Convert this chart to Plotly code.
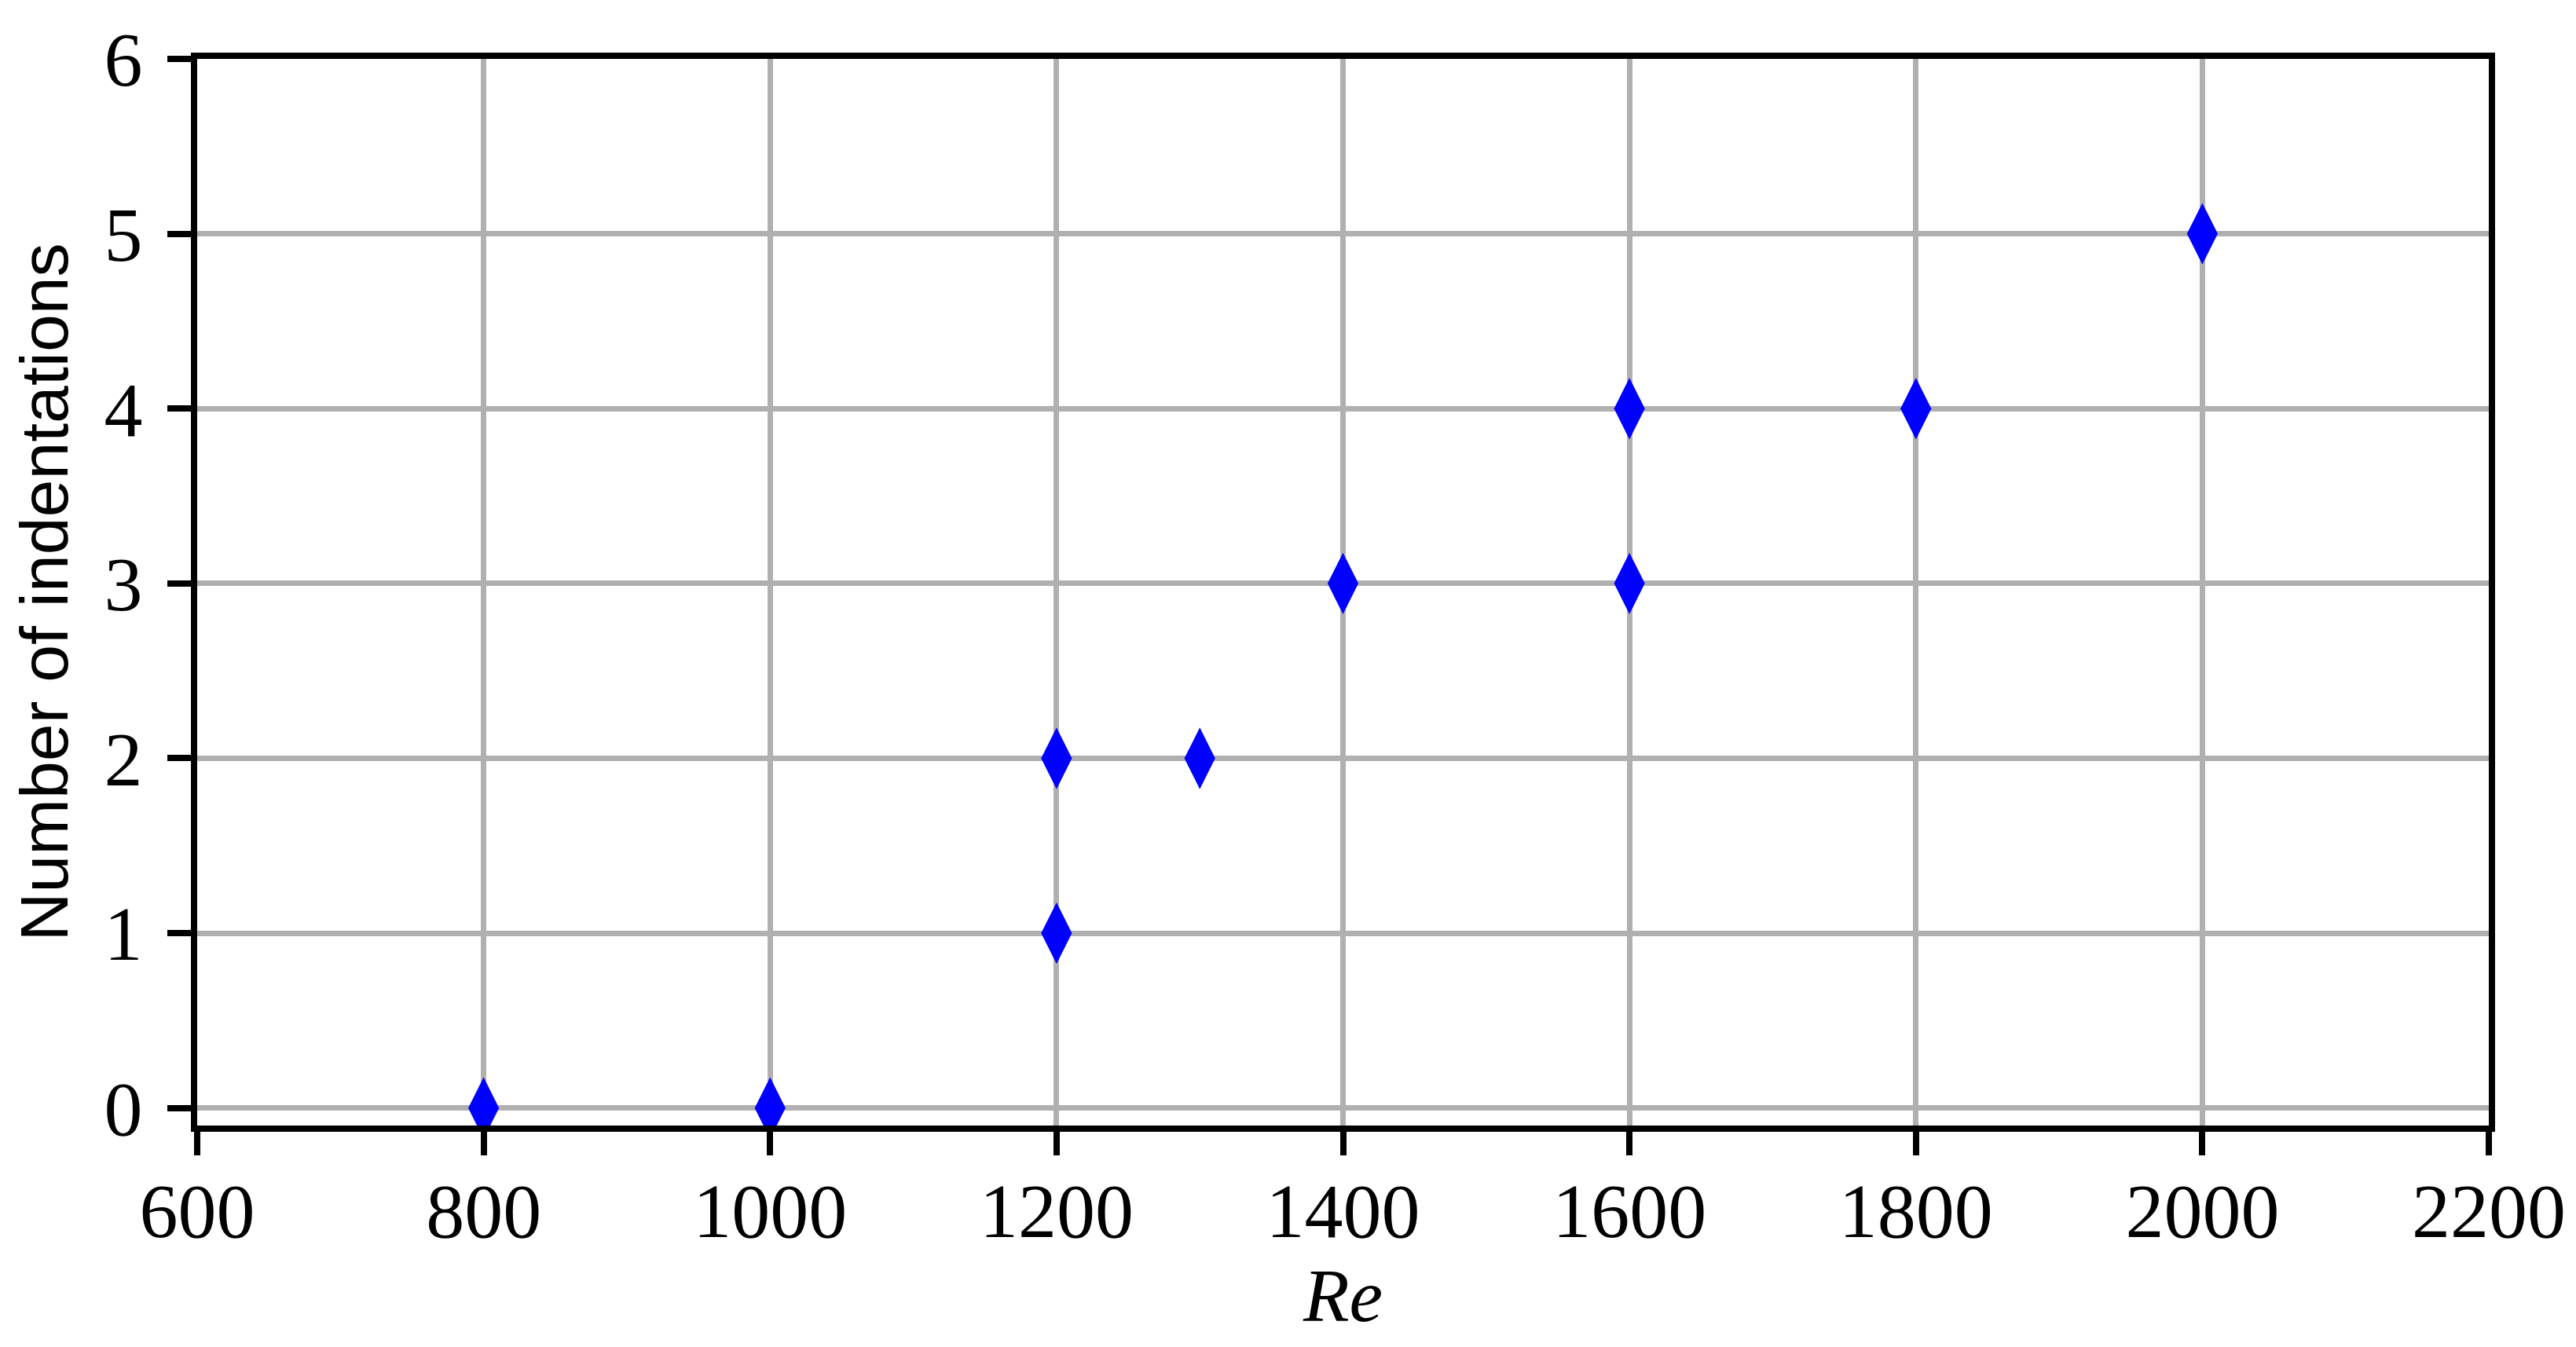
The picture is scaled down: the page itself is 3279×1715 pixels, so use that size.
import plotly.graph_objects as go

# Reynolds number vs number of indentations
re_values = [800, 1000, 1200, 1200, 1300, 1400, 1600, 1600, 1800, 2000]
indentations = [0, 0, 1, 2, 2, 3, 3, 4, 4, 5]

x_ticks = [600, 800, 1000, 1200, 1400, 1600, 1800, 2000, 2200]
y_ticks = [0, 1, 2, 3, 4, 5, 6]

fig = go.Figure()
fig.add_trace(go.Scatter(
    x=re_values, y=indentations, mode='markers',
    marker=dict(symbol='diamond-tall', size=56, color='#0000ff', line=dict(width=0)),
    showlegend=False,
))

tick_font = dict(family='Liberation Serif', size=98, color='black')

fig.update_layout(
    width=3279, height=1715,
    margin=dict(l=243, r=119, t=67, b=290),
    paper_bgcolor='white', plot_bgcolor='white',
    xaxis=dict(
        range=[600, 2200], tickvals=x_ticks, ticktext=[str(v) for v in x_ticks],
        showgrid=True, gridcolor='#b0b0b0', gridwidth=7, zeroline=False,
        showline=True, linecolor='black', linewidth=8, mirror=True,
        ticks='outside', ticklen=30, tickwidth=8, tickcolor='black',
        tickfont=tick_font, ticklabelstandoff=-14,
        title=dict(text='<i>Re</i>', font=dict(family='Liberation Serif', size=96, color='black'),
                   standoff=0),
    ),
    yaxis=dict(
        range=[-0.1, 6], tickvals=y_ticks, ticktext=[str(v) for v in y_ticks],
        showgrid=True, gridcolor='#b0b0b0', gridwidth=7, zeroline=False,
        showline=True, linecolor='black', linewidth=8, mirror=True,
        ticks='outside', ticklen=30, tickwidth=8, tickcolor='black',
        tickfont=tick_font, ticklabelstandoff=12,
        title=dict(text='Number of indentations', font=dict(family='Liberation Sans', size=86, color='black'),
                   standoff=42),
    ),
)

fig.write_html("out.html")
